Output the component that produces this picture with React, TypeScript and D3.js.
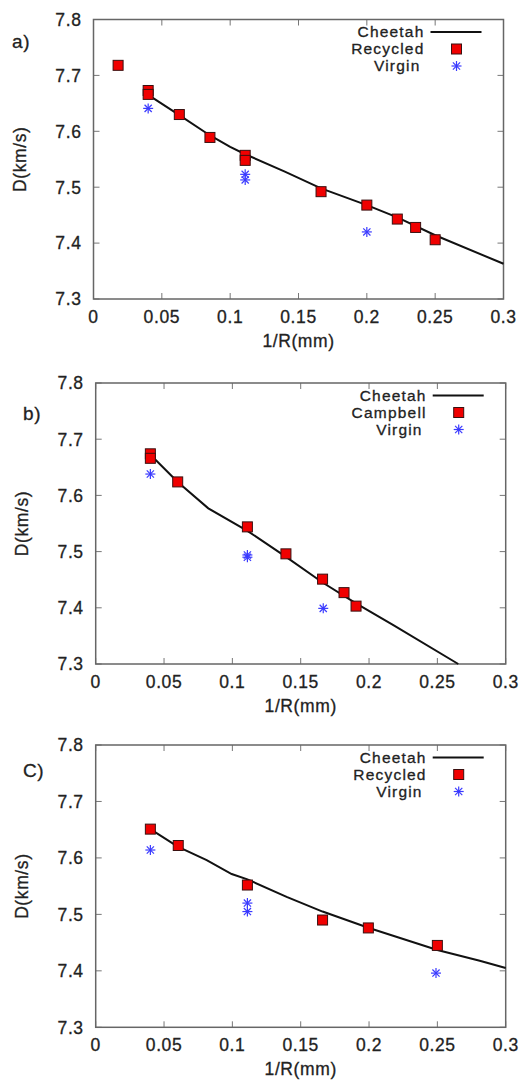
import React from 'react'
import * as d3 from 'd3'

// panel a) Recycled
const aCheetah: [number, number][] = [
  [0.04, 7.665], [0.0628, 7.629], [0.085, 7.593], [0.1, 7.572], [0.111, 7.559],
  [0.14, 7.528], [0.1665, 7.498], [0.2, 7.468], [0.2223, 7.446], [0.25, 7.414], [0.3, 7.363],
]
const aRecycled: [number, number][] = [
  [0.018, 7.718], [0.04, 7.673], [0.04, 7.666], [0.0628, 7.630], [0.0852, 7.589],
  [0.111, 7.557], [0.111, 7.548], [0.1665, 7.492], [0.2, 7.468], [0.2223, 7.443],
  [0.2357, 7.428], [0.25, 7.406],
]
const aVirgin: [number, number][] = [
  [0.04, 7.641], [0.111, 7.523], [0.111, 7.513], [0.2, 7.420],
]

// panel b) Campbell
const bCheetah: [number, number][] = [
  [0.041, 7.670], [0.06, 7.624], [0.0824, 7.577], [0.111, 7.537], [0.139, 7.491],
  [0.166, 7.445], [0.1905, 7.408], [0.2178, 7.369], [0.2653, 7.3],
]
const bCampbell: [number, number][] = [
  [0.04, 7.674], [0.04, 7.666], [0.06, 7.624], [0.111, 7.544], [0.1392, 7.496],
  [0.166, 7.451], [0.1817, 7.427], [0.1905, 7.403],
]
const bVirgin: [number, number][] = [
  [0.04, 7.638], [0.111, 7.494], [0.111, 7.490], [0.1665, 7.399],
]

// panel c) Recycled
const cCheetah: [number, number][] = [
  [0.04, 7.651], [0.06, 7.620], [0.0812, 7.596], [0.0995, 7.5715], [0.111, 7.562],
  [0.1397, 7.531], [0.166, 7.505], [0.2, 7.476], [0.25, 7.437], [0.281, 7.418], [0.3, 7.405],
]
const cRecycled: [number, number][] = [
  [0.04, 7.651], [0.0604, 7.622], [0.111, 7.552], [0.166, 7.490], [0.1995, 7.476], [0.25, 7.445],
]
const cVirgin: [number, number][] = [
  [0.04, 7.614], [0.111, 7.520], [0.111, 7.505], [0.249, 7.396],
]

const xTicks = [0, 0.05, 0.1, 0.15, 0.2, 0.25, 0.3]
const yTicks = [7.3, 7.4, 7.5, 7.6, 7.7, 7.8]
const xTitle = '1/R(mm)'
const yTitle = 'D(km/s)'

const font = "'Liberation Sans', Arial, sans-serif"
const txt = {
  fontFamily: font, fontSize: 17.5, letterSpacing: 0.6, fill: '#222',
  stroke: '#222', strokeWidth: 0.3,
}
const legTxt = { ...txt, fontSize: 15.5, letterSpacing: 1.2 }

function Star({ x, y }: { x: number; y: number }) {
  const r = 5
  const d = r * 0.72
  return (
    <g stroke="#3a3aff" strokeWidth={1.2}>
      <line x1={x - r} y1={y} x2={x + r} y2={y} />
      <line x1={x} y1={y - r} x2={x} y2={y + r} />
      <line x1={x - d} y1={y - d} x2={x + d} y2={y + d} />
      <line x1={x - d} y1={y + d} x2={x + d} y2={y - d} />
    </g>
  )
}

function Square({ x, y }: { x: number; y: number }) {
  return <rect x={x - 5} y={y - 5} width={10} height={10} fill="#f00000" stroke="#3a1010" strokeWidth={1} />
}

type PanelProps = {
  x0: number; x1: number; yTop: number; yBot: number
  tag: string; tagX: number; tagY: number; yTitleX: number
  line: [number, number][]; squares: [number, number][]; stars: [number, number][]
  squareName: string
}

function Panel(p: PanelProps) {
  const x = d3.scaleLinear().domain([0, 0.3]).range([p.x0, p.x1])
  const y = d3.scaleLinear().domain([7.3, 7.8]).range([p.yBot, p.yTop])
  const path = d3.line<[number, number]>().x(d => x(d[0])).y(d => y(d[1]))(p.line) || ''
  const tk = 6
  const rows = [p.yTop + 12.5, p.yTop + 29.5, p.yTop + 46.5]
  const textEnd = p.x1 - 79
  const mk = p.x1 - 47
  return (
    <g>
      <defs>
        <clipPath id={'clip' + p.tag}>
          <rect x={p.x0} y={p.yTop} width={p.x1 - p.x0} height={p.yBot - p.yTop} />
        </clipPath>
      </defs>
      {/* ticks */}
      <g stroke="#777" strokeWidth={1}>
        {yTicks.map(t => (
          <g key={t}>
            <line x1={p.x0} x2={p.x0 + tk} y1={y(t)} y2={y(t)} />
            <line x1={p.x1} x2={p.x1 - tk} y1={y(t)} y2={y(t)} />
          </g>
        ))}
        {xTicks.map(t => (
          <g key={t}>
            <line x1={x(t)} x2={x(t)} y1={p.yBot} y2={p.yBot - tk} />
            <line x1={x(t)} x2={x(t)} y1={p.yTop} y2={p.yTop + tk} />
          </g>
        ))}
      </g>
      <rect x={p.x0} y={p.yTop} width={p.x1 - p.x0} height={p.yBot - p.yTop} fill="none" stroke="#666" strokeWidth={1.5} />
      {yTicks.map(t => (
        <text key={t} {...txt} x={p.x0 - 12} y={y(t)} dy="0.36em" textAnchor="end">{t.toFixed(1)}</text>
      ))}
      {xTicks.map(t => (
        <text key={t} {...txt} x={x(t)} y={p.yBot + 24} textAnchor="middle">{String(t)}</text>
      ))}
      <text {...txt} x={(p.x0 + p.x1) / 2} y={p.yBot + 48} textAnchor="middle">{xTitle}</text>
      <text {...txt} transform={`translate(${p.yTitleX},${(p.yTop + p.yBot) / 2}) rotate(-90)`} textAnchor="middle" dy="0.36em">{yTitle}</text>
      <text {...txt} fontSize={19} x={p.tagX} y={p.tagY}>{p.tag}</text>
      {/* legend */}
      <text {...legTxt} x={textEnd} y={rows[0] + 5} textAnchor="end">Cheetah</text>
      <line x1={p.x1 - 73} x2={p.x1 - 22} y1={rows[0]} y2={rows[0]} stroke="#111" strokeWidth={2} />
      <text {...legTxt} x={textEnd} y={rows[1] + 5} textAnchor="end">{p.squareName}</text>
      <Square x={mk} y={rows[1]} />
      <text {...legTxt} x={textEnd - 4} y={rows[2] + 5} textAnchor="end">Virgin</text>
      <Star x={mk} y={rows[2]} />
      {/* data */}
      <g clipPath={`url(#clip${p.tag})`}>
        <path d={path} fill="none" stroke="#111" strokeWidth={2} />
      </g>
      {p.stars.map((d, i) => <Star key={'s' + i} x={x(d[0])} y={y(d[1])} />)}
      {p.squares.map((d, i) => <Square key={'q' + i} x={x(d[0])} y={y(d[1])} />)}
    </g>
  )
}

export default function App() {
  return (
    <svg width={522} height={1080} style={{ position: 'absolute', left: 0, top: 0, background: '#fff' }}>
      <rect width={522} height={1080} fill="#fff" />
      <Panel x0={93.5} x1={503.5} yTop={19.5} yBot={299} tag="a)" tagX={12} tagY={48} yTitleX={20}
        line={aCheetah} squares={aRecycled} stars={aVirgin} squareName="Recycled" />
      <Panel x0={95.7} x1={505.7} yTop={383} yBot={664} tag="b)" tagX={23} tagY={420} yTitleX={22}
        line={bCheetah} squares={bCampbell} stars={bVirgin} squareName="Campbell" />
      <Panel x0={95.7} x1={505.7} yTop={745} yBot={1027.3} tag="C)" tagX={23} tagY={777} yTitleX={22}
        line={cCheetah} squares={cRecycled} stars={cVirgin} squareName="Recycled" />
    </svg>
  )
}
